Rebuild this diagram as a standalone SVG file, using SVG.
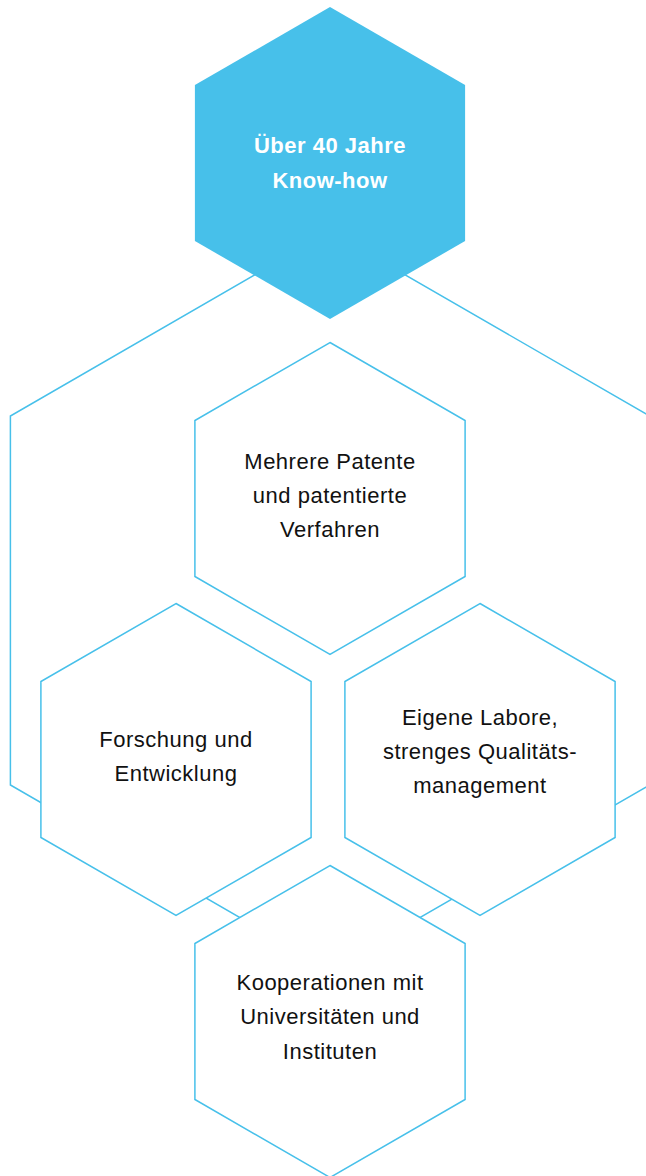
<svg xmlns="http://www.w3.org/2000/svg" width="646" height="1176" viewBox="0 0 646 1176">
  <style>
    .hex { fill: #ffffff; stroke: #47C0EA; stroke-width: 1.5; stroke-linejoin: miter; }
    .hex-main { fill: #47C0EA; stroke: none; }
    .frame { fill: none; stroke: #47C0EA; stroke-width: 1.5; }
    .lbl { font-family: "Liberation Sans", Arial, Helvetica, sans-serif; font-size: 22px; letter-spacing: 0.5px; fill: #111111; text-anchor: middle; }
    .lbl-main { font-family: "Liberation Sans", Arial, Helvetica, sans-serif; font-size: 22px; letter-spacing: 0.5px; font-weight: bold; fill: #ffffff; text-anchor: middle; }
  </style>
  <rect width="646" height="1176" fill="#ffffff"/>
  <g id="connectors">
    <polygon class="frame" points="330,231.5 649.6,416 649.6,785 330,969.5 10.4,785 10.4,416"/>
  </g>
  <g id="node-know-how">
    <polygon class="hex-main" points="330,7 465.1,85 465.1,241 330,319 194.9,241 194.9,85"/>
    <text class="lbl-main" x="330" y="153">Über 40 Jahre</text>
    <text class="lbl-main" x="330" y="188">Know-how</text>
  </g>
  <g id="node-patente">
    <polygon class="hex" points="330,342.5 465.1,420.5 465.1,576.5 330,654.5 194.9,576.5 194.9,420.5"/>
    <text class="lbl" x="330" y="468.5">Mehrere Patente</text>
    <text class="lbl" x="330" y="502.5">und patentierte</text>
    <text class="lbl" x="330" y="536.5">Verfahren</text>
  </g>
  <g id="node-forschung">
    <polygon class="hex" points="176,603.5 311.1,681.5 311.1,837.5 176,915.5 40.9,837.5 40.9,681.5"/>
    <text class="lbl" x="176" y="747">Forschung und</text>
    <text class="lbl" x="176" y="781">Entwicklung</text>
  </g>
  <g id="node-labore">
    <polygon class="hex" points="480,603.5 615.1,681.5 615.1,837.5 480,915.5 344.9,837.5 344.9,681.5"/>
    <text class="lbl" x="480" y="724.5">Eigene Labore,</text>
    <text class="lbl" x="480" y="758.5">strenges Qualitäts-</text>
    <text class="lbl" x="480" y="792.5">management</text>
  </g>
  <g id="node-kooperationen">
    <polygon class="hex" points="330,865.5 465.1,943.5 465.1,1099.5 330,1177.5 194.9,1099.5 194.9,943.5"/>
    <text class="lbl" x="330" y="989.5">Kooperationen mit</text>
    <text class="lbl" x="330" y="1024">Universitäten und</text>
    <text class="lbl" x="330" y="1058.5">Instituten</text>
  </g>
</svg>
